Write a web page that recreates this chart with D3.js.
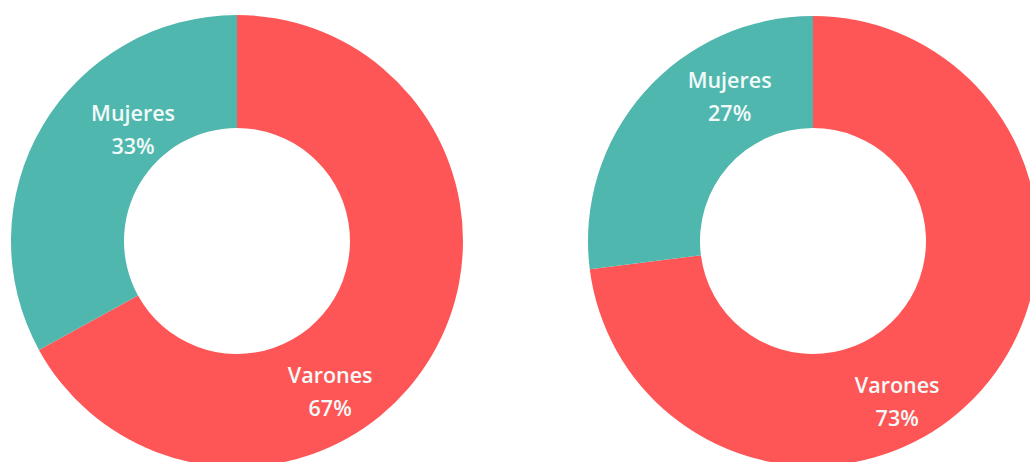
<!DOCTYPE html>
<html>
<head>
<meta charset="utf-8">
<script src="https://cdn.jsdelivr.net/npm/d3@7/dist/d3.min.js"></script>
<style>
  html, body { margin: 0; padding: 0; background: #ffffff; overflow: hidden; }
  svg { display: block; }
</style>
</head>
<body>
<svg id="chart" width="1030" height="462"></svg>
<script>
// ---- data ----
const categories = ["Varones", "Mujeres"];
const chartLeftValues = [67, 33];
const chartRightValues = [73, 27];
const percentLabelsLeft = ["67%", "33%"];
const percentLabelsRight = ["73%", "27%"];

// ---- layout / style ----
const colors = ["#fe5656", "#50b7ae"];
const charts = [
  { cx: 237, cy: 241, outer: 226, inner: 113, values: chartLeftValues, pcts: percentLabelsLeft,
    // label anchor: angle (deg, clockwise from top) and radius from centre, per category
    labelPos: [{ a: 149.4, r: 183 }, { a: -45, r: 147 }] },
  { cx: 813, cy: 241, outer: 225, inner: 113, values: chartRightValues, pcts: percentLabelsRight,
    labelPos: [{ a: 153.4, r: 188 }, { a: -31.4, r: 160 }] }
];

const svg = d3.select("#chart");
const pie = d3.pie().sort(null).value(d => d);

charts.forEach(c => {
  const g = svg.append("g").attr("transform", `translate(${c.cx},${c.cy})`);
  const arc = d3.arc().innerRadius(c.inner).outerRadius(c.outer);
  const arcs = pie(c.values);
  g.selectAll("path.slice")
    .data(arcs)
    .join("path")
    .attr("class", "slice")
    .attr("d", arc)
    .attr("fill", (d, i) => colors[i])
    .attr("stroke", "none");

  const labels = g.selectAll("text.lbl")
    .data(arcs)
    .join("text")
    .attr("class", "lbl")
    .attr("text-anchor", "middle")
    .attr("font-family", "'Open Sans', 'Noto Sans', sans-serif")
    .attr("font-weight", 600)
    .attr("font-size", "21.5px")
    .attr("fill", "#f2faf9")
    .attr("transform", (d, i) => {
      const p = c.labelPos[i];
      const rad = p.a * Math.PI / 180;
      return `translate(${p.r * Math.sin(rad)},${-p.r * Math.cos(rad)})`;
    });
  labels.append("tspan").attr("x", 0).attr("y", -16).text((d, i) => categories[i]);
  labels.append("tspan").attr("x", 0).attr("y", 17).text((d, i) => c.pcts[i]);
});
</script>
</body>
</html>
